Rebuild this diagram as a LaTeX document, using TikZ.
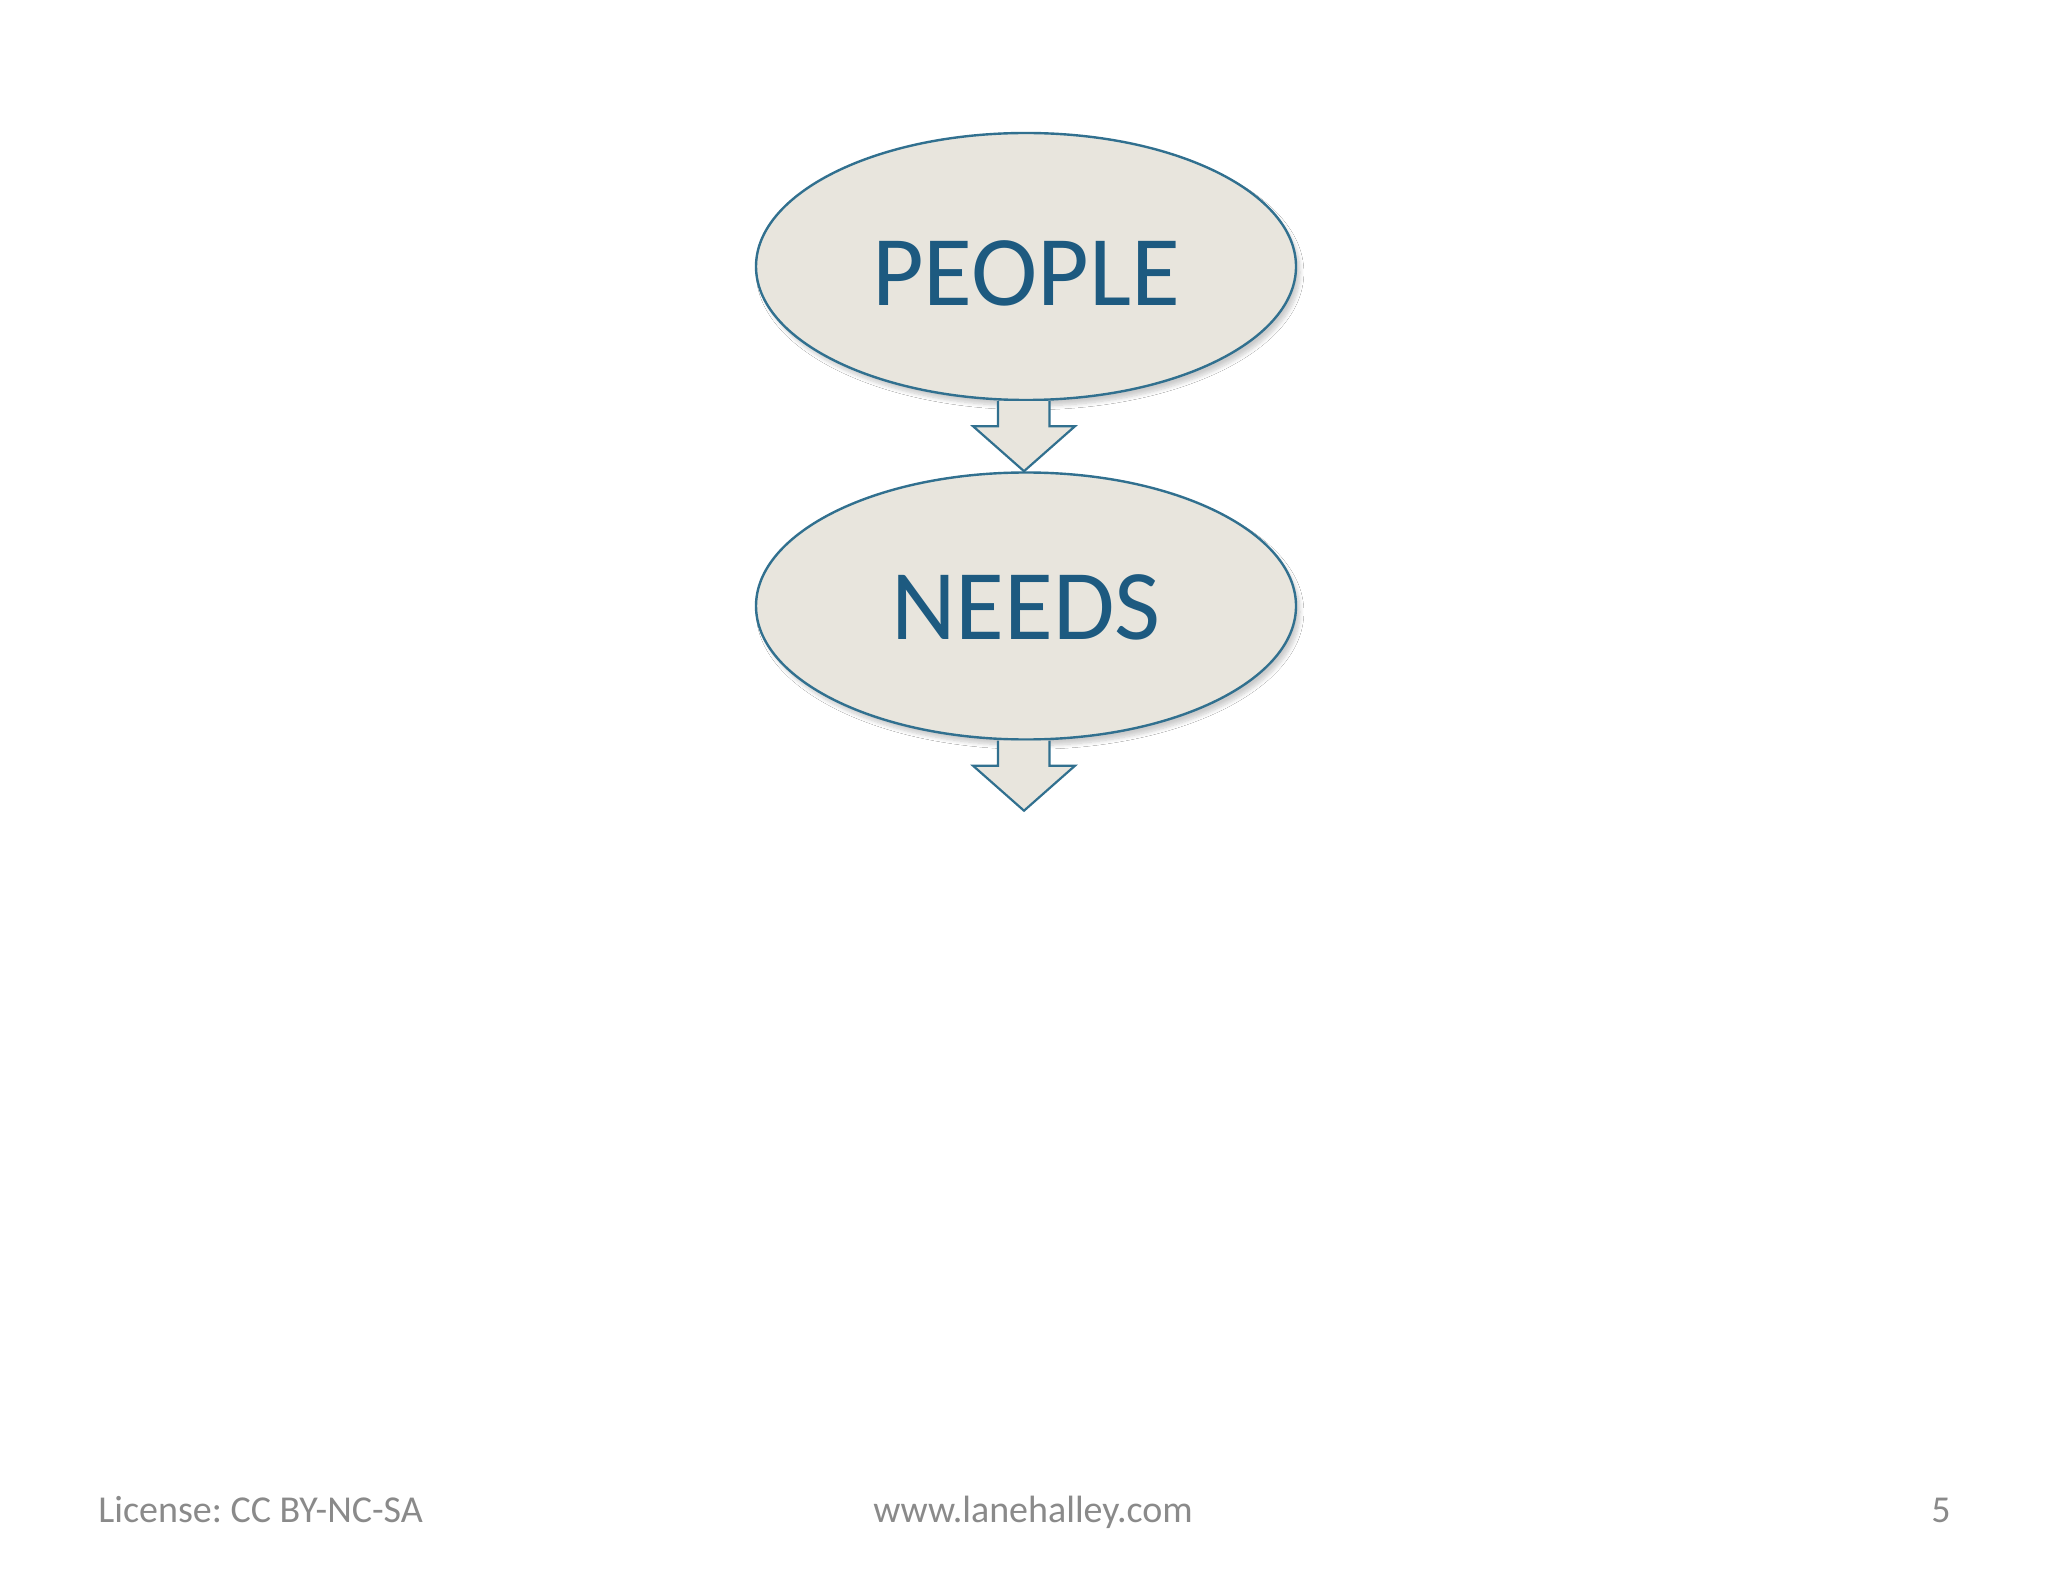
\documentclass[tikz,border=0pt]{standalone}
\usepackage{fontspec}
\setmainfont{Carlito}
\frenchspacing
\usetikzlibrary{shapes.geometric,shadows.blur,calc}
\definecolor{fillc}{HTML}{E8E5DD}
\definecolor{linec}{HTML}{31708F}
\definecolor{textc}{HTML}{1D5A80}
\definecolor{footc}{HTML}{8A8A8A}
\tikzset{
  bubble/.style={ellipse, draw=linec, line width=1.2pt, fill=fillc,
    minimum width=270pt, minimum height=133.5pt, inner sep=0pt,
    font=\fontsize{50}{60}\selectfont, text=textc,
    blur shadow={shadow xshift=2pt, shadow yshift=-3pt, shadow opacity=20, shadow blur steps=8}},
  blockarrow/.style={draw=linec, line width=1.1pt, fill=fillc, line join=miter},
  foot/.style={font=\fontsize{19}{23}\selectfont, text=footc, inner sep=0pt}
}
\begin{document}
\begin{tikzpicture}[x=0.5pt,y=-0.5pt]
\useasboundingbox[fill=white] (0,0) rectangle (2048,1582);
\node[bubble] (people) at (1026,266.5) {\raisebox{-3.3pt}[\height][\depth]{PEOPLE}};
\node[bubble] (needs) at (1026,606) {\raisebox{-0.8pt}[\height][\depth]{NEEDS}};
% arrow 1
\coordinate (a1) at (people.south);
\draw[blockarrow] ($(a1)+(-28,0)$) -- ($(a1)+(-28,25)$) -- ($(a1)+(-53,25)$) -- ($(a1)+(-2,70)$) -- ($(a1)+(49,25)$) -- ($(a1)+(23.5,25)$) -- ($(a1)+(23.5,0)$);
% arrow 2
\coordinate (a2) at (needs.south);
\draw[blockarrow] ($(a2)+(-28,0)$) -- ($(a2)+(-28,25)$) -- ($(a2)+(-53,25)$) -- ($(a2)+(-2,70)$) -- ($(a2)+(49,25)$) -- ($(a2)+(23.5,25)$) -- ($(a2)+(23.5,0)$);
\node[foot, anchor=base west] (lic) at (98,1522) {License: CC BY-NC-SA};
\node[foot, anchor=base west] (web) at (873,1522) {www.lanehalley.com};
\node[foot, anchor=base east] (pg) at (1951,1522) {5};
\end{tikzpicture}
\end{document}
